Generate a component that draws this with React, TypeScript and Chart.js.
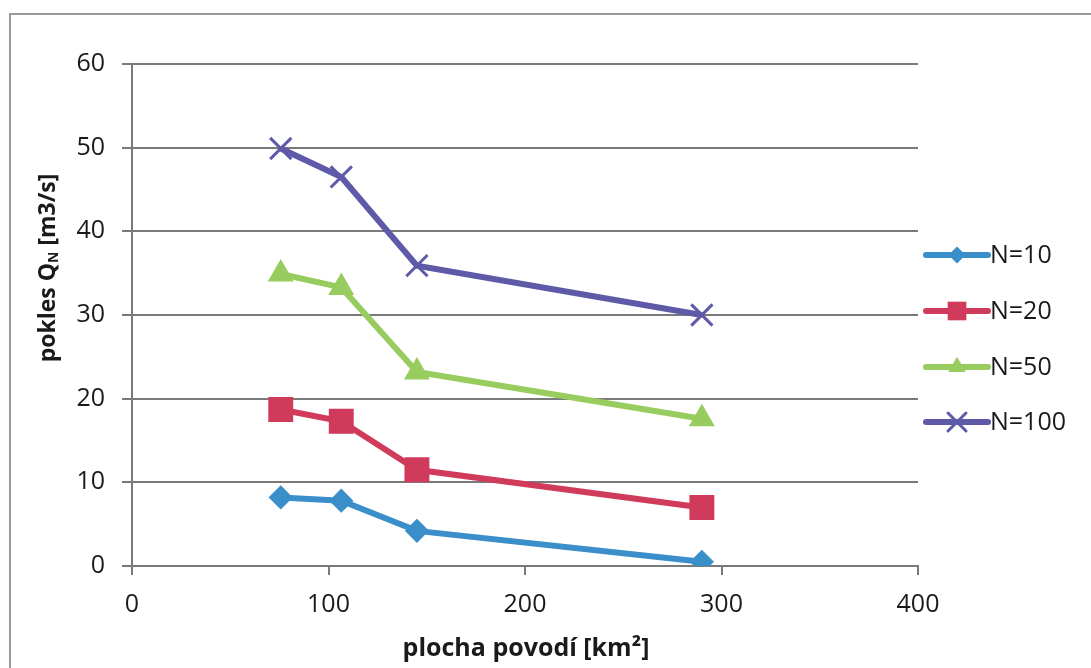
import React, { useEffect, useRef } from "react";
import { Chart, registerables } from "chart.js";

Chart.register(...registerables);

const areaKm2 = [75.7, 106.5, 145, 290];
const n10 = [8.2, 7.8, 4.2, 0.5];
const n20 = [18.7, 17.3, 11.5, 7.0];
const n50 = [34.9, 33.3, 23.2, 17.6];
const n100 = [49.9, 46.5, 35.9, 30.0];
const seriesLabels = ["N=10", "N=20", "N=50", "N=100"];
const xTicks = [0, 100, 200, 300, 400];
const yTicks = [0, 10, 20, 30, 40, 50, 60];

const FONT = "'Open Sans', 'Noto Sans', sans-serif";

const styles = [
  { color: "#3a8ec9", point: "rectRot", radius: 10 },
  { color: "#d03b5b", point: "rect", radius: 15.5 },
  { color: "#98cc5e", point: "triangle", radius: 12 },
  { color: "#5f5aa8", point: "crossRot", radius: 15 },
];

const toPoints = (ys: number[]) => areaKm2.map((x, i) => ({ x, y: ys[i] }));

function drawPt(ctx: CanvasRenderingContext2D, style: string, r: number, x: number, y: number, color: string) {
  ctx.save();
  ctx.fillStyle = color;
  ctx.strokeStyle = color;
  ctx.lineWidth = 3;
  ctx.beginPath();
  if (style === "rectRot") {
    ctx.moveTo(x, y - r);
    ctx.lineTo(x + r, y);
    ctx.lineTo(x, y + r);
    ctx.lineTo(x - r, y);
    ctx.closePath();
    ctx.fill();
  } else if (style === "rect") {
    const s = r * Math.SQRT1_2;
    ctx.rect(x - s, y - s, 2 * s, 2 * s);
    ctx.fill();
  } else if (style === "triangle") {
    ctx.moveTo(x, y - r);
    ctx.lineTo(x + r * 0.866, y + r * 0.5);
    ctx.lineTo(x - r * 0.866, y + r * 0.5);
    ctx.closePath();
    ctx.fill();
  } else {
    const o = r * Math.SQRT1_2;
    ctx.moveTo(x - o, y - o);
    ctx.lineTo(x + o, y + o);
    ctx.moveTo(x + o, y - o);
    ctx.lineTo(x - o, y + o);
    ctx.stroke();
  }
  ctx.restore();
}

const decorPlugin = {
  id: "decor",
  afterDraw(chart: any) {
    const ctx = chart.ctx as CanvasRenderingContext2D;
    ctx.save();
    // outer frame
    ctx.strokeStyle = "#9a9a9a";
    ctx.lineWidth = 2;
    ctx.strokeRect(10, 14, 1095, 680);

    // y title with subscript
    ctx.fillStyle = "#1a1a1a";
    ctx.translate(48, 268);
    ctx.rotate(-Math.PI / 2);
    const big = `bold 23px ${FONT}`;
    const small = `bold 14px ${FONT}`;
    const p1 = "pokles Q";
    const p2 = "N";
    const p3 = " [m3/s]";
    ctx.font = big;
    const w1 = ctx.measureText(p1).width;
    const w3 = ctx.measureText(p3).width;
    ctx.font = small;
    const w2 = ctx.measureText(p2).width;
    const total = w1 + w2 + w3;
    let x0 = -total / 2;
    ctx.textBaseline = "middle";
    ctx.textAlign = "left";
    ctx.font = big;
    ctx.fillText(p1, x0, 0);
    x0 += w1;
    ctx.font = small;
    ctx.fillText(p2, x0, 6);
    x0 += w2;
    ctx.font = big;
    ctx.fillText(p3, x0, 0);
    ctx.restore();

    // x title
    ctx.save();
    ctx.fillStyle = "#1a1a1a";
    ctx.font = `bold 25px ${FONT}`;
    ctx.textAlign = "center";
    ctx.textBaseline = "middle";
    ctx.fillText("plocha povodí [km²]", 526, 649);
    ctx.restore();

    // legend
    ctx.save();
    const ys = [255, 311, 367, 422];
    chart.data.datasets.forEach((ds: any, i: number) => {
      const st = styles[i];
      const y = ys[i];
      ctx.strokeStyle = st.color;
      ctx.lineWidth = 6;
      ctx.lineCap = "round";
      ctx.beginPath();
      ctx.moveTo(926, y);
      ctx.lineTo(988, y);
      ctx.stroke();
      drawPt(ctx, st.point, st.radius * 0.85, 957, y, st.color);
      ctx.fillStyle = "#1a1a1a";
      ctx.font = `25px ${FONT}`;
      ctx.textAlign = "left";
      ctx.textBaseline = "middle";
      ctx.fillText(ds.label, 990, y + 1);
    });
    ctx.restore();
  },
};

export default function App() {
  const ref = useRef<HTMLCanvasElement>(null);
  useEffect(() => {
    if (!ref.current) return;
    const all = [n10, n20, n50, n100];
    const chart = new Chart(ref.current, {
      type: "line",
      data: {
        datasets: all.map((ys, i) => ({
          label: seriesLabels[i],
          data: toPoints(ys),
          borderColor: styles[i].color,
          backgroundColor: styles[i].color,
          borderWidth: 6,
          pointStyle: styles[i].point as any,
          pointRadius: styles[i].radius,
          pointBorderWidth: 3,
          pointBackgroundColor: styles[i].color,
          pointBorderColor: styles[i].color,
          tension: 0,
          fill: false,
        })),
      },
      options: {
        animation: false,
        responsive: false,
        layout: { padding: { left: 0, top: 64, right: 173, bottom: 0 } },
        plugins: { legend: { display: false }, tooltip: { enabled: false } },
        scales: {
          x: {
            type: "linear",
            min: 0,
            max: 400,
            afterBuildTicks: (axis: any) => {
              axis.ticks = xTicks.map((v) => ({ value: v }));
            },
            afterFit: (axis: any) => {
              axis.height = 102;
            },
            grid: {
              display: true,
              drawOnChartArea: false,
              drawTicks: true,
              tickLength: 9,
              color: "#7a7a7a",
              lineWidth: 2,
            },
            border: { display: true, color: "#7a7a7a", width: 2 },
            ticks: {
              color: "#1a1a1a",
              font: { family: FONT, size: 25 },
              padding: 15,
              maxRotation: 0,
            },
          },
          y: {
            type: "linear",
            min: 0,
            max: 60,
            afterBuildTicks: (axis: any) => {
              axis.ticks = yTicks.map((v) => ({ value: v }));
            },
            afterFit: (axis: any) => {
              axis.width = 132;
            },
            grid: {
              display: true,
              drawTicks: true,
              tickLength: 10,
              color: "#7a7a7a",
              lineWidth: 2,
            },
            border: { display: true, color: "#7a7a7a", width: 2 },
            ticks: {
              color: "#1a1a1a",
              font: { family: FONT, size: 25 },
              padding: 17,
            },
          },
        },
      },
      plugins: [decorPlugin],
    });
    return () => chart.destroy();
  }, []);
  return (
    <div style={{ position: "absolute", left: 0, top: 0, width: 1091, height: 668, background: "#fff" }}>
      <canvas ref={ref} width={1091} height={668} style={{ width: 1091, height: 668, display: "block" }} />
    </div>
  );
}
